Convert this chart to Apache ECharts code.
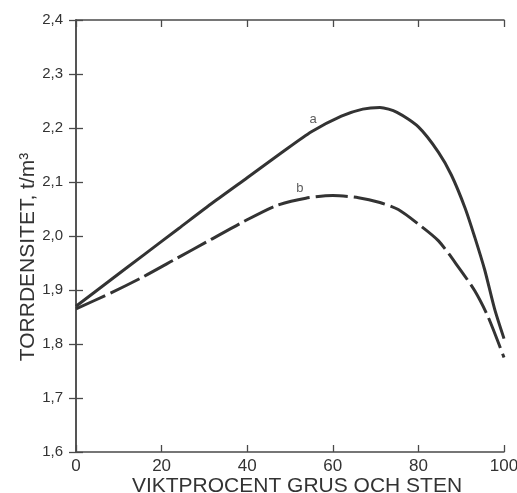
<!DOCTYPE html>
<html>
<head>
<meta charset="utf-8">
<script src="https://cdn.jsdelivr.net/npm/echarts@6/dist/echarts.min.js"></script>
<style>
  html, body { margin: 0; padding: 0; background: #fff; }
  #main { width: 517px; height: 493px; }
</style>
</head>
<body>
<div id="main"></div>
<script>
// kurva a (heldragen)
var dataA = [
  [0, 1.87], [8, 1.918], [16, 1.966], [24, 2.014], [32, 2.062], [40, 2.108],
  [48, 2.154], [55, 2.193], [62, 2.222], [67, 2.235], [71, 2.238], [75, 2.229],
  [80, 2.202], [84.7, 2.155], [87.7, 2.113], [90.9, 2.052], [93.2, 1.997],
  [95.5, 1.937], [97.8, 1.865], [100, 1.81]
];
// kurva b (streckad)
var dataB = [
  [0, 1.865], [8, 1.894], [15.6, 1.924], [23.4, 1.958], [31.2, 1.992],
  [39, 2.026], [46.7, 2.056], [53.7, 2.07], [60, 2.075], [66, 2.071],
  [71, 2.062], [75.3, 2.049], [80, 2.022], [84.7, 1.991], [89.3, 1.943],
  [93.2, 1.898], [96.3, 1.85], [100, 1.775]
];
// kurvbeteckningar
var labelA = [[55.4, 2.216]];
var labelB = [[52.3, 2.088]];

var xName = 'VIKTPROCENT GRUS OCH STEN';
var yName = 'TORRDENSITET, t/m³';

var axisCol = '#4a4a4a';
var lineCol = '#333333';
var font = 'Liberation Sans, Arial, Helvetica, sans-serif';

var myChart = echarts.init(document.getElementById('main'));

function comma(v) {
  return v.toFixed(1).replace('.', ',');
}

var tick = { show: true, inside: true, length: 7, lineStyle: { color: axisCol, width: 1.3 } };

function curveLabel(txt, pos) {
  return {
    type: 'scatter', data: pos, symbolSize: 0, silent: true,
    label: { show: true, position: 'inside', formatter: txt, fontFamily: font, fontSize: 13, color: '#333' }
  };
}

var option = {
  backgroundColor: '#fff',
  animation: false,
  grid: { left: 76, right: 13, top: 20, bottom: 41, outerBoundsMode: 'none', containLabel: false },
  xAxis: [{
    type: 'value', min: 0, max: 100, interval: 20,
    name: xName, nameLocation: 'middle', nameGap: 24, nameMoveOverlap: false,
    nameTextStyle: { fontFamily: font, fontSize: 21, color: '#333', padding: [0, 0, 0, 14] },
    axisLine: { lineStyle: { color: axisCol, width: 1.5 } },
    axisTick: tick,
    axisLabel: { fontFamily: font, fontSize: 17, color: '#333', margin: 6 },
    splitLine: { show: false }
  }, {
    type: 'value', min: 0, max: 100, interval: 20, position: 'top',
    axisLine: { show: true, lineStyle: { color: axisCol, width: 1.5 } },
    axisTick: tick,
    axisLabel: { show: false },
    splitLine: { show: false }
  }],
  yAxis: [{
    type: 'value', min: 1.6, max: 2.4, interval: 0.1,
    name: yName, nameLocation: 'middle', nameGap: 37, nameMoveOverlap: false,
    nameTextStyle: { fontFamily: font, fontSize: 21, color: '#333', padding: [0, 42, 0, 0] },
    axisLine: { show: true, lineStyle: { color: axisCol, width: 1.5 } },
    axisTick: tick,
    axisLabel: { fontFamily: font, fontSize: 15, color: '#333', margin: 13, formatter: comma },
    splitLine: { show: false }
  }, {
    type: 'value', min: 1.6, max: 2.4, interval: 0.1, position: 'right',
    axisLine: { show: true, lineStyle: { color: axisCol, width: 1.5 } },
    axisTick: tick,
    axisLabel: { show: false },
    splitLine: { show: false }
  }],
  series: [{
    name: 'a', type: 'line', data: dataA, smooth: 0.25, symbol: 'none',
    lineStyle: { color: lineCol, width: 3 }
  }, {
    name: 'b', type: 'line', data: dataB, smooth: 0.25, symbol: 'none',
    lineStyle: { color: lineCol, width: 3, type: [32, 6] }
  },
  curveLabel('a', labelA),
  curveLabel('b', labelB)]
};

myChart.setOption(option);
</script>
</body>
</html>
